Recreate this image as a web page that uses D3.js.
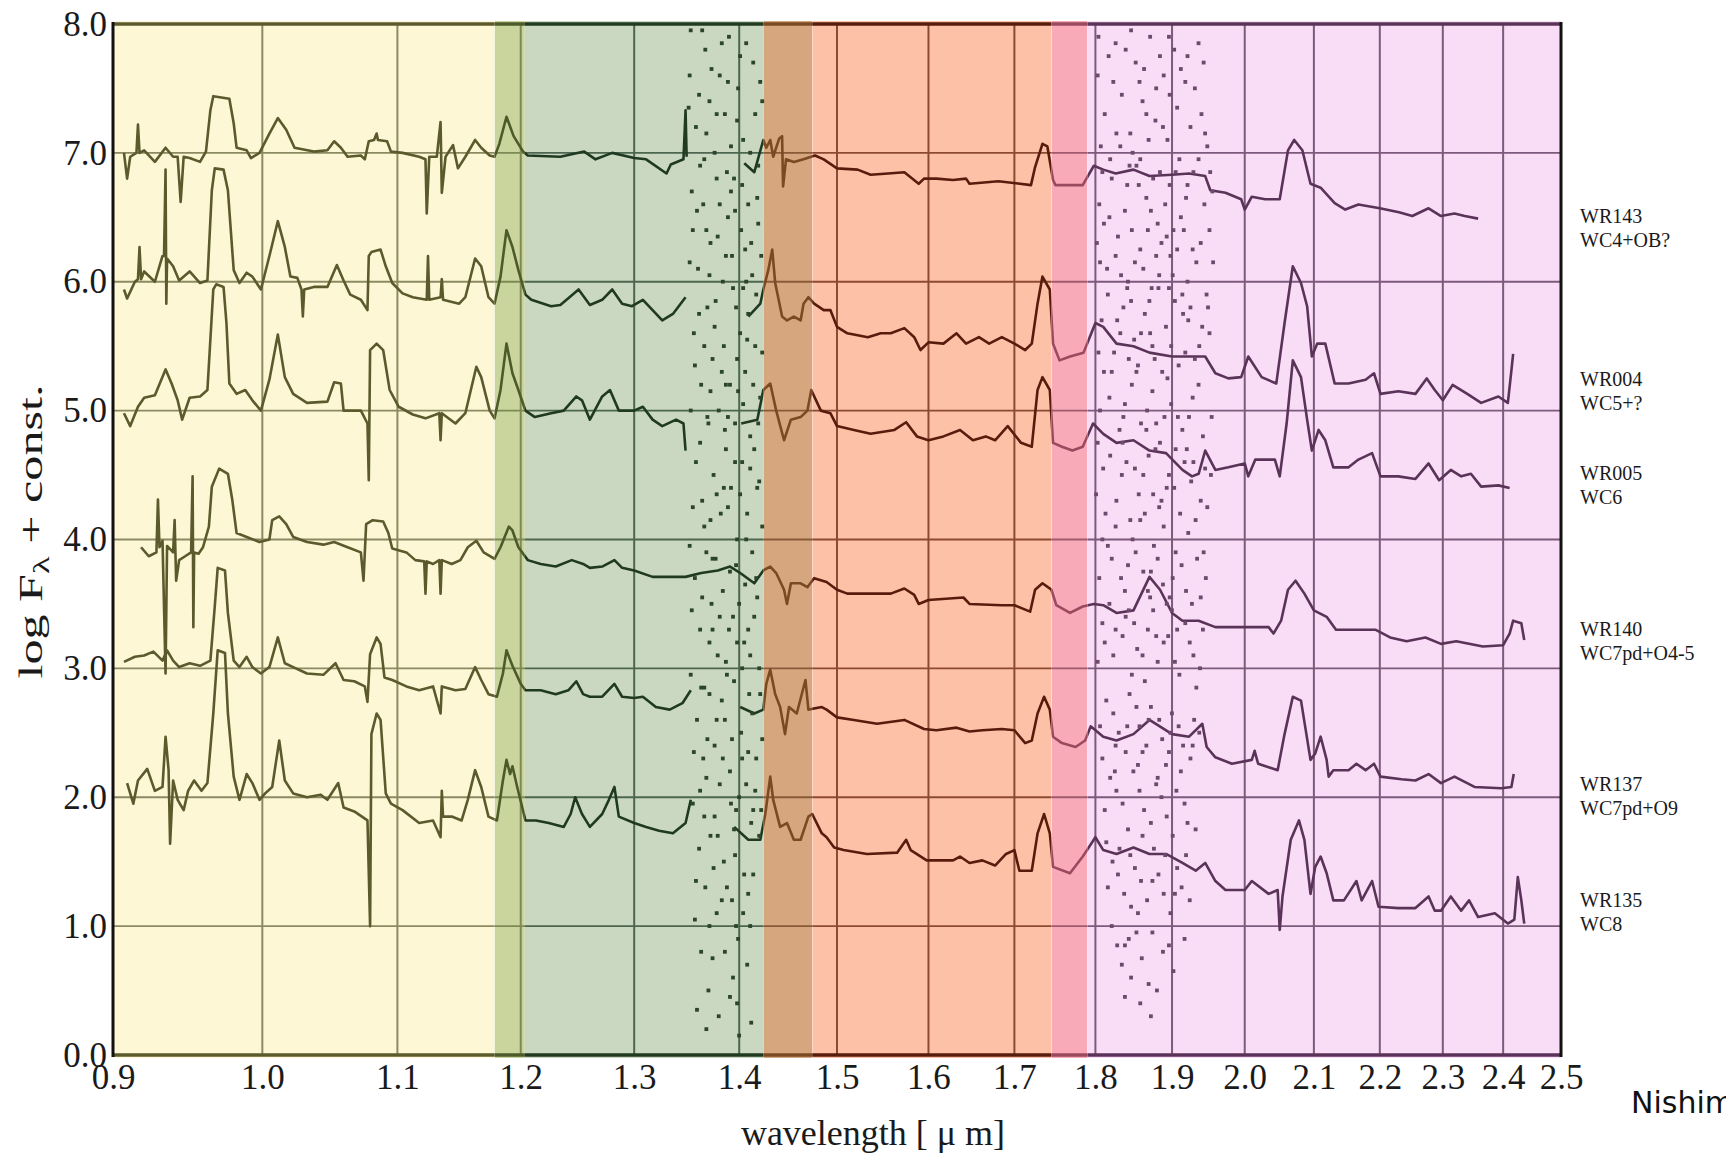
<!DOCTYPE html>
<html>
<head>
<meta charset="utf-8">
<script src="https://cdn.jsdelivr.net/npm/d3@7"></script>
<style>
  body { margin: 0; background: #fff; }
  svg { display: block; }
</style>
</head>
<body>
<svg id="chart"></svg>
<script>
// wavelength ticks (log axis) and flux ticks
const xTicks = [0.9, 1.0, 1.1, 1.2, 1.3, 1.4, 1.5, 1.6, 1.7, 1.8, 1.9, 2.0, 2.1, 2.2, 2.3, 2.4, 2.5];
const yTicks = [0, 1, 2, 3, 4, 5, 6, 7, 8];

// filter bands (wavelength edges) and their colours
const bandEdges = [0.9, 1.178, 1.2035, 1.424, 1.474, 1.745, 1.79, 2.5];
const bandFills = ["#fdf7d5", "#c9d59d", "#cad8c1", "#d6a67f", "#fdc1a8", "#f9aab9", "#f9dcf6"];
const bandInks = ["#5b5a2d", "#4d5a2a", "#203a22", "#7a4a22", "#571c0c", "#9a4a5e", "#5a3358"];
const gridInks = ["#8c8a62", "#7d8a55", "#4c6650", "#8a5a38", "#8c4a32", "#a05a6c", "#7c5a7c"];

// stars, types and where their labels sit
const starNames = ["WR143", "WR004", "WR005", "WR140", "WR137", "WR135"];
const starTypes = ["WC4+OB?", "WC5+?", "WC6", "WC7pd+O4-5", "WC7pd+O9", "WC8"];
const labelLevels = [6.42, 5.15, 4.42, 3.21, 2.01, 1.11];

// spectra: [wavelength um, log F + const], null = gap
const wr143 = [[0.907,7.0],[0.909,6.8],[0.911,6.97],[0.915,7.0],[0.916,7.22],[0.917,7.0],[0.920,7.02],[0.927,6.93],[0.934,7.04],[0.939,6.97],[0.942,6.97],[0.944,6.62],[0.946,6.97],[0.950,6.96],[0.957,6.93],[0.961,7.01],[0.964,7.33],[0.966,7.44],[0.977,7.42],[0.980,7.23],[0.982,7.04],[0.989,7.02],[0.992,6.96],[0.998,7.0],[1.005,7.15],[1.011,7.27],[1.017,7.18],[1.023,7.04],[1.037,7.01],[1.047,7.02],[1.052,7.09],[1.057,7.04],[1.062,6.97],[1.072,6.98],[1.075,6.95],[1.078,7.09],[1.082,7.1],[1.084,7.15],[1.085,7.1],[1.092,7.09],[1.095,7.01],[1.104,7.0],[1.117,6.97],[1.122,6.95],[1.123,6.53],[1.125,6.97],[1.131,6.97],[1.134,7.24],[1.135,6.69],[1.138,6.97],[1.144,7.06],[1.148,6.88],[1.154,6.97],[1.162,7.1],[1.167,7.04],[1.174,6.98],[1.178,6.97],[1.182,7.07],[1.188,7.28],[1.194,7.13],[1.202,7.01],[1.206,6.98],[1.234,6.97],[1.255,7.01],[1.265,6.95],[1.28,7.0],[1.3,6.96],[1.311,6.95],[1.33,6.84],[1.334,6.91],[1.346,6.95],[1.348,7.33],[1.349,6.97],null,[1.405,6.92],[1.415,6.85],[1.424,7.1],[1.427,7.04],[1.431,7.1],[1.434,6.97],[1.44,7.11],[1.443,7.13],[1.444,6.74],[1.447,6.95],[1.455,6.93],[1.465,6.95],[1.477,6.98],[1.486,6.95],[1.5,6.88],[1.522,6.87],[1.536,6.83],[1.555,6.84],[1.573,6.85],[1.589,6.76],[1.595,6.8],[1.609,6.8],[1.628,6.79],[1.643,6.8],[1.647,6.76],[1.681,6.78],[1.72,6.75],[1.725,6.89],[1.734,7.07],[1.74,7.05],[1.747,6.79],[1.75,6.75],[1.784,6.75],[1.798,6.9],[1.81,6.87],[1.826,6.84],[1.849,6.87],[1.87,6.82],[1.9,6.83],[1.923,6.84],[1.945,6.82],[1.952,6.71],[1.973,6.69],[1.995,6.64],[2.0,6.56],[2.01,6.66],[2.029,6.64],[2.05,6.64],[2.062,7.02],[2.071,7.1],[2.083,7.02],[2.095,6.76],[2.11,6.73],[2.131,6.61],[2.147,6.56],[2.167,6.6],[2.2,6.57],[2.23,6.54],[2.251,6.51],[2.277,6.57],[2.297,6.51],[2.319,6.53],[2.336,6.51],[2.358,6.49]];

const wr004 = [[0.907,5.94],[0.909,5.87],[0.914,6.0],[0.916,6.02],[0.917,6.27],[0.918,6.02],[0.920,6.08],[0.927,6.0],[0.932,6.2],[0.933,6.2],[0.934,6.87],[0.9345,5.83],[0.935,6.18],[0.939,6.12],[0.943,6.01],[0.950,6.08],[0.957,5.99],[0.962,6.01],[0.965,6.71],[0.967,6.88],[0.973,6.87],[0.976,6.71],[0.980,6.09],[0.984,5.99],[0.989,6.07],[0.993,6.04],[0.999,5.94],[1.005,6.2],[1.011,6.47],[1.016,6.27],[1.020,6.04],[1.025,6.03],[1.028,5.94],[1.029,5.73],[1.030,5.94],[1.037,5.96],[1.047,5.96],[1.054,6.13],[1.059,6.01],[1.064,5.9],[1.072,5.86],[1.077,5.78],[1.078,6.2],[1.080,6.23],[1.087,6.25],[1.091,6.12],[1.096,5.99],[1.104,5.91],[1.112,5.88],[1.123,5.86],[1.124,6.2],[1.125,5.86],[1.134,5.88],[1.135,6.02],[1.136,5.86],[1.149,5.83],[1.154,5.88],[1.162,6.18],[1.167,6.12],[1.173,5.88],[1.178,5.83],[1.183,6.04],[1.188,6.4],[1.193,6.27],[1.198,6.09],[1.204,5.9],[1.209,5.86],[1.226,5.81],[1.234,5.82],[1.242,5.88],[1.25,5.94],[1.26,5.82],[1.271,5.86],[1.28,5.94],[1.289,5.83],[1.298,5.81],[1.308,5.86],[1.317,5.78],[1.326,5.7],[1.336,5.75],[1.348,5.88],null,[1.409,5.73],[1.421,5.83],[1.424,5.94],[1.429,6.09],[1.433,6.25],[1.436,5.99],[1.443,5.73],[1.448,5.7],[1.455,5.73],[1.462,5.7],[1.465,5.83],[1.47,5.88],[1.476,5.83],[1.486,5.78],[1.493,5.78],[1.5,5.65],[1.511,5.6],[1.533,5.57],[1.547,5.6],[1.558,5.6],[1.573,5.64],[1.584,5.57],[1.591,5.47],[1.6,5.53],[1.617,5.52],[1.632,5.6],[1.643,5.52],[1.658,5.57],[1.67,5.52],[1.685,5.57],[1.7,5.52],[1.713,5.47],[1.721,5.52],[1.728,5.83],[1.734,6.04],[1.743,5.94],[1.747,5.52],[1.755,5.39],[1.768,5.42],[1.785,5.45],[1.8,5.68],[1.81,5.65],[1.827,5.52],[1.849,5.5],[1.87,5.45],[1.9,5.42],[1.923,5.42],[1.945,5.42],[1.959,5.29],[1.977,5.25],[1.995,5.26],[2.005,5.42],[2.024,5.26],[2.045,5.21],[2.057,5.68],[2.069,6.12],[2.081,5.99],[2.09,5.81],[2.097,5.42],[2.105,5.52],[2.117,5.52],[2.131,5.21],[2.152,5.21],[2.178,5.24],[2.191,5.29],[2.201,5.13],[2.229,5.15],[2.256,5.13],[2.274,5.25],[2.287,5.16],[2.3,5.08],[2.316,5.2],[2.34,5.13],[2.363,5.06],[2.392,5.11],[2.408,5.06],[2.414,5.31],[2.417,5.44]];

const wr005 = [[0.907,4.98],[0.911,4.88],[0.916,5.03],[0.920,5.1],[0.927,5.12],[0.934,5.32],[0.938,5.21],[0.942,5.08],[0.945,4.93],[0.950,5.1],[0.957,5.11],[0.962,5.16],[0.966,5.94],[0.968,5.98],[0.973,5.96],[0.975,5.68],[0.977,5.21],[0.982,5.13],[0.988,5.16],[0.993,5.08],[0.999,5.0],[1.005,5.24],[1.011,5.59],[1.016,5.26],[1.022,5.13],[1.032,5.06],[1.047,5.07],[1.052,5.22],[1.057,5.21],[1.059,5.0],[1.072,5.0],[1.077,4.9],[1.078,4.46],[1.079,5.47],[1.084,5.52],[1.089,5.47],[1.094,5.16],[1.101,5.03],[1.112,4.97],[1.122,4.94],[1.133,4.98],[1.134,4.77],[1.135,4.98],[1.146,4.9],[1.154,4.98],[1.163,5.34],[1.167,5.26],[1.174,5.0],[1.178,4.94],[1.183,5.16],[1.188,5.52],[1.193,5.29],[1.198,5.16],[1.204,5.0],[1.212,4.95],[1.226,4.98],[1.237,5.0],[1.248,5.11],[1.253,5.08],[1.26,4.93],[1.271,5.11],[1.278,5.16],[1.286,5.0],[1.3,5.0],[1.308,5.03],[1.317,4.93],[1.326,4.88],[1.339,4.93],[1.346,4.9],[1.348,4.69],null,[1.402,4.9],[1.418,4.93],[1.424,5.16],[1.431,5.21],[1.437,5.0],[1.445,4.77],[1.452,4.93],[1.462,4.95],[1.469,5.0],[1.473,5.16],[1.483,5.0],[1.493,4.98],[1.5,4.88],[1.518,4.85],[1.536,4.82],[1.562,4.85],[1.575,4.91],[1.587,4.8],[1.6,4.77],[1.617,4.8],[1.636,4.85],[1.651,4.77],[1.666,4.8],[1.677,4.77],[1.692,4.88],[1.708,4.75],[1.721,4.72],[1.728,5.16],[1.734,5.26],[1.743,5.16],[1.747,4.75],[1.758,4.72],[1.771,4.69],[1.784,4.72],[1.797,4.9],[1.81,4.82],[1.827,4.75],[1.849,4.77],[1.87,4.69],[1.892,4.67],[1.914,4.54],[1.927,4.49],[1.936,4.51],[1.945,4.69],[1.959,4.54],[1.977,4.56],[2.0,4.59],[2.005,4.49],[2.015,4.62],[2.043,4.62],[2.05,4.49],[2.06,4.9],[2.069,5.39],[2.081,5.26],[2.09,4.93],[2.097,4.69],[2.107,4.85],[2.117,4.77],[2.129,4.56],[2.152,4.56],[2.167,4.62],[2.188,4.67],[2.201,4.49],[2.229,4.49],[2.256,4.47],[2.277,4.59],[2.294,4.46],[2.313,4.54],[2.33,4.49],[2.346,4.51],[2.363,4.41],[2.392,4.42],[2.411,4.4]];

const wr140 = [[0.918,3.94],[0.923,3.87],[0.928,3.9],[0.929,4.31],[0.930,3.94],[0.932,3.99],[0.934,2.96],[0.935,3.95],[0.939,3.9],[0.940,4.15],[0.941,3.68],[0.943,3.84],[0.947,3.87],[0.951,3.9],[0.952,4.49],[0.9525,3.32],[0.953,3.9],[0.956,3.89],[0.959,3.94],[0.963,4.1],[0.965,4.41],[0.970,4.55],[0.976,4.51],[0.979,4.31],[0.982,4.05],[0.989,4.02],[0.998,3.98],[1.005,4.0],[1.007,4.15],[1.012,4.18],[1.017,4.12],[1.022,4.02],[1.032,3.98],[1.044,3.96],[1.052,3.98],[1.062,3.94],[1.072,3.9],[1.074,3.68],[1.076,4.12],[1.081,4.15],[1.089,4.14],[1.093,4.05],[1.096,3.93],[1.107,3.9],[1.114,3.84],[1.121,3.83],[1.122,3.58],[1.123,3.83],[1.128,3.81],[1.133,3.84],[1.134,3.58],[1.135,3.84],[1.143,3.81],[1.15,3.84],[1.156,3.94],[1.163,3.99],[1.169,3.9],[1.178,3.85],[1.183,3.94],[1.19,4.1],[1.193,4.07],[1.198,3.94],[1.206,3.84],[1.217,3.81],[1.23,3.79],[1.244,3.84],[1.254,3.81],[1.26,3.78],[1.271,3.79],[1.282,3.84],[1.289,3.78],[1.3,3.76],[1.317,3.71],[1.333,3.71],[1.348,3.71],[1.363,3.74],[1.379,3.76],[1.391,3.79],[1.401,3.74],[1.415,3.66],[1.424,3.76],[1.431,3.79],[1.437,3.74],[1.445,3.61],[1.448,3.5],[1.452,3.66],[1.462,3.66],[1.469,3.63],[1.476,3.7],[1.489,3.67],[1.5,3.61],[1.511,3.58],[1.536,3.58],[1.558,3.58],[1.573,3.62],[1.584,3.57],[1.589,3.5],[1.6,3.53],[1.64,3.55],[1.647,3.5],[1.685,3.49],[1.7,3.49],[1.719,3.44],[1.725,3.61],[1.734,3.66],[1.745,3.61],[1.751,3.49],[1.768,3.43],[1.784,3.48],[1.798,3.5],[1.81,3.49],[1.827,3.43],[1.849,3.45],[1.87,3.71],[1.884,3.61],[1.9,3.43],[1.914,3.37],[1.936,3.37],[1.959,3.32],[2.0,3.32],[2.034,3.32],[2.041,3.27],[2.052,3.37],[2.062,3.61],[2.073,3.68],[2.086,3.58],[2.1,3.45],[2.119,3.4],[2.133,3.3],[2.167,3.3],[2.193,3.3],[2.216,3.24],[2.242,3.21],[2.272,3.24],[2.297,3.19],[2.322,3.21],[2.366,3.17],[2.4,3.18],[2.411,3.27],[2.417,3.37],[2.431,3.35],[2.436,3.22]];

const wr137 = [[0.907,3.05],[0.914,3.09],[0.920,3.1],[0.926,3.13],[0.932,3.06],[0.935,3.14],[0.939,3.06],[0.943,3.01],[0.950,3.04],[0.957,3.02],[0.964,3.06],[0.967,3.48],[0.969,3.78],[0.974,3.76],[0.976,3.43],[0.980,3.06],[0.984,3.01],[0.989,3.09],[0.993,3.01],[0.999,2.96],[1.005,3.01],[1.011,3.24],[1.016,3.04],[1.022,3.01],[1.032,2.96],[1.044,2.95],[1.053,3.04],[1.059,2.91],[1.067,2.9],[1.075,2.86],[1.077,2.74],[1.079,3.11],[1.084,3.24],[1.087,3.19],[1.09,2.93],[1.096,2.91],[1.107,2.86],[1.117,2.83],[1.128,2.86],[1.134,2.65],[1.135,2.86],[1.146,2.83],[1.154,2.84],[1.162,3.01],[1.167,2.91],[1.173,2.8],[1.18,2.78],[1.185,2.96],[1.188,3.14],[1.193,3.02],[1.2,2.88],[1.204,2.83],[1.217,2.83],[1.23,2.8],[1.241,2.83],[1.248,2.9],[1.254,2.8],[1.26,2.78],[1.271,2.78],[1.282,2.88],[1.289,2.78],[1.3,2.77],[1.308,2.78],[1.32,2.7],[1.333,2.68],[1.345,2.73],[1.353,2.83],null,[1.401,2.7],[1.415,2.65],[1.424,2.68],[1.427,2.88],[1.431,2.99],[1.436,2.8],[1.441,2.7],[1.446,2.49],[1.45,2.7],[1.458,2.65],[1.467,2.91],[1.47,2.68],[1.484,2.7],[1.489,2.68],[1.5,2.62],[1.518,2.6],[1.543,2.57],[1.573,2.6],[1.595,2.53],[1.609,2.52],[1.632,2.54],[1.647,2.51],[1.662,2.52],[1.685,2.53],[1.7,2.52],[1.713,2.42],[1.721,2.44],[1.728,2.65],[1.736,2.78],[1.743,2.68],[1.747,2.47],[1.758,2.42],[1.775,2.39],[1.787,2.44],[1.794,2.55],[1.81,2.47],[1.827,2.44],[1.849,2.49],[1.87,2.6],[1.9,2.49],[1.923,2.47],[1.941,2.57],[1.947,2.39],[1.959,2.31],[1.982,2.26],[2.01,2.29],[2.014,2.36],[2.019,2.26],[2.047,2.21],[2.057,2.49],[2.069,2.78],[2.081,2.75],[2.095,2.29],[2.102,2.34],[2.11,2.47],[2.119,2.29],[2.122,2.16],[2.129,2.21],[2.152,2.21],[2.164,2.26],[2.178,2.21],[2.191,2.26],[2.201,2.16],[2.234,2.14],[2.256,2.13],[2.277,2.18],[2.297,2.11],[2.319,2.16],[2.352,2.08],[2.397,2.07],[2.414,2.08],[2.418,2.18]];

const wr135 = [[0.909,2.11],[0.913,1.95],[0.916,2.13],[0.922,2.22],[0.927,2.05],[0.932,2.08],[0.934,2.47],[0.936,2.21],[0.937,1.64],[0.939,2.13],[0.942,1.98],[0.946,1.9],[0.949,2.05],[0.953,2.13],[0.958,2.05],[0.962,2.11],[0.966,2.65],[0.969,3.14],[0.974,3.12],[0.976,2.65],[0.98,2.16],[0.984,1.98],[0.989,2.18],[0.993,2.11],[0.998,1.98],[1.002,2.03],[1.007,2.08],[1.012,2.44],[1.016,2.13],[1.022,2.03],[1.032,2.0],[1.042,2.02],[1.047,1.98],[1.055,2.11],[1.059,1.92],[1.067,1.89],[1.077,1.82],[1.079,1.0],[1.08,2.49],[1.084,2.65],[1.087,2.6],[1.091,2.03],[1.095,1.95],[1.104,1.9],[1.117,1.8],[1.128,1.82],[1.134,1.69],[1.135,2.05],[1.136,1.85],[1.143,1.85],[1.151,1.82],[1.156,1.98],[1.162,2.21],[1.167,2.08],[1.173,1.85],[1.18,1.82],[1.185,2.13],[1.188,2.29],[1.191,2.18],[1.193,2.24],[1.197,2.08],[1.204,1.82],[1.213,1.82],[1.224,1.8],[1.237,1.77],[1.243,1.87],[1.247,2.0],[1.253,1.87],[1.26,1.77],[1.271,1.87],[1.277,1.98],[1.282,2.08],[1.286,1.85],[1.3,1.8],[1.311,1.77],[1.323,1.74],[1.336,1.72],[1.348,1.8],[1.353,1.98],null,[1.395,1.77],[1.409,1.67],[1.421,1.67],[1.426,1.87],[1.431,2.16],[1.434,1.98],[1.441,1.77],[1.448,1.8],[1.455,1.67],[1.462,1.67],[1.47,1.85],[1.474,1.87],[1.484,1.72],[1.489,1.69],[1.497,1.61],[1.507,1.59],[1.532,1.56],[1.565,1.57],[1.575,1.67],[1.58,1.59],[1.598,1.51],[1.628,1.51],[1.636,1.54],[1.647,1.49],[1.662,1.51],[1.677,1.47],[1.69,1.56],[1.7,1.59],[1.706,1.43],[1.721,1.43],[1.728,1.72],[1.736,1.87],[1.743,1.72],[1.747,1.46],[1.768,1.41],[1.784,1.54],[1.8,1.69],[1.81,1.59],[1.827,1.56],[1.849,1.61],[1.87,1.56],[1.892,1.56],[1.914,1.49],[1.932,1.43],[1.945,1.49],[1.959,1.35],[1.973,1.28],[2.0,1.28],[2.01,1.35],[2.034,1.25],[2.047,1.28],[2.05,0.97],[2.054,1.23],[2.066,1.67],[2.078,1.82],[2.086,1.67],[2.095,1.25],[2.102,1.46],[2.11,1.54],[2.119,1.41],[2.129,1.2],[2.145,1.2],[2.164,1.35],[2.172,1.2],[2.188,1.35],[2.198,1.15],[2.229,1.14],[2.256,1.14],[2.277,1.23],[2.287,1.12],[2.297,1.12],[2.313,1.23],[2.33,1.12],[2.343,1.2],[2.358,1.07],[2.386,1.1],[2.408,1.02],[2.419,1.05],[2.425,1.38],[2.431,1.2],[2.436,1.02]];

const spectra = [wr143, wr004, wr005, wr140, wr137, wr135];

// telluric noise points around 1.4 um and 1.9 um
const noiseJH = [[1.352,7.6],[1.358,7.2],[1.362,6.9],[1.355,6.4],[1.367,7.8],[1.371,7.4],[1.376,7.0],[1.381,7.6],[1.386,7.3],[1.390,7.9],[1.395,6.8],[1.399,7.5],[1.404,7.1],[1.409,6.6],[1.414,7.7],[1.419,6.9],[1.360,6.1],[1.365,6.6],[1.372,6.3],[1.378,6.8],[1.384,6.0],[1.389,6.5],[1.393,6.2],[1.397,5.8],[1.402,6.4],[1.407,6.0],[1.412,6.3],[1.417,5.9],[1.422,6.2],[1.356,5.6],[1.363,5.2],[1.369,5.8],[1.374,5.4],[1.380,5.0],[1.385,5.5],[1.391,5.2],[1.396,4.9],[1.401,5.6],[1.406,5.3],[1.411,4.8],[1.416,5.5],[1.421,5.1],[1.358,4.6],[1.364,4.3],[1.370,4.9],[1.375,4.5],[1.382,4.2],[1.387,4.7],[1.392,4.4],[1.398,4.0],[1.403,4.6],[1.408,4.2],[1.413,3.9],[1.418,4.4],[1.423,4.1],[1.357,3.7],[1.362,3.3],[1.368,3.9],[1.373,3.5],[1.379,3.1],[1.384,3.6],[1.390,3.3],[1.395,2.9],[1.400,3.5],[1.405,3.2],[1.410,2.8],[1.415,3.4],[1.420,3.0],[1.359,2.6],[1.365,2.3],[1.371,2.8],[1.376,2.4],[1.381,2.1],[1.386,2.6],[1.391,2.2],[1.397,1.9],[1.402,2.5],[1.407,2.1],[1.412,1.8],[1.417,2.3],[1.422,1.9],[1.361,1.6],[1.367,1.3],[1.372,1.7],[1.378,1.1],[1.385,1.5],[1.393,1.2],[1.399,0.9],[1.405,1.4],[1.411,1.0],[1.363,0.8],[1.370,0.5],[1.380,0.3],[1.394,0.6],[1.400,0.15],[1.408,0.7],[1.366,6.95],[1.388,6.85],[1.403,6.75],[1.377,5.85],[1.394,5.95],[1.409,5.75],[1.369,4.95],[1.386,4.85],[1.415,4.7],[1.374,3.85],[1.391,3.75],[1.406,3.65],[1.366,2.85],[1.383,2.75],[1.413,2.65],[1.376,1.85],[1.395,1.75],[1.420,1.7],
  [1.353,7.95],[1.361,7.45],[1.368,7.15],[1.373,7.65],[1.383,7.85],[1.392,7.05],[1.398,7.25],[1.407,7.85],[1.416,7.3],[1.421,7.55],[1.354,6.7],[1.359,6.55],[1.371,6.05],[1.379,6.35],[1.387,6.2],[1.396,6.55],[1.404,5.95],[1.413,6.05],[1.419,6.45],[1.357,5.35],[1.366,5.5],[1.372,5.15],[1.383,5.3],[1.389,4.95],[1.398,5.4],[1.404,5.05],[1.414,5.2],[1.423,5.45],[1.355,4.25],[1.362,4.75],[1.372,4.15],[1.378,4.35],[1.389,4.25],[1.396,4.6],[1.401,4.35],[1.411,4.55],[1.420,4.45],[1.354,3.45],[1.364,3.55],[1.371,3.2],[1.381,3.4],[1.388,2.95],[1.394,3.4],[1.403,3.0],[1.409,3.3],[1.418,3.55],[1.356,2.35],[1.362,2.05],[1.369,2.45],[1.378,2.6],[1.384,2.3],[1.393,2.45],[1.400,2.0],[1.409,2.35],[1.416,2.05],[1.358,1.35],[1.366,1.85],[1.375,1.45],[1.388,1.3],[1.396,1.55],[1.404,1.1],[1.414,1.4],[1.359,0.35],[1.371,1.0],[1.386,0.8],[1.398,0.4],[1.412,0.25],
  [1.351,7.35],[1.364,7.95],[1.378,7.3],[1.389,7.55],[1.401,7.75],[1.411,7.0],[1.423,7.4],[1.352,6.15],[1.368,6.4],[1.381,6.6],[1.392,6.7],[1.406,6.25],[1.418,6.65],[1.353,5.0],[1.361,5.75],[1.376,5.65],[1.387,5.2],[1.399,5.15],[1.408,5.55],[1.419,4.9],[1.352,3.95],[1.366,4.1],[1.377,3.85],[1.385,4.4],[1.397,3.8],[1.407,4.0],[1.417,3.7],[1.353,2.95],[1.363,2.85],[1.374,3.3],[1.387,3.05],[1.398,3.2],[1.411,3.1],[1.421,2.8],[1.355,1.95],[1.368,2.15],[1.379,1.7],[1.392,1.95],[1.403,2.3],[1.414,1.9],[1.423,2.45],[1.357,1.05],[1.374,0.75],[1.383,1.2],[1.397,1.0],[1.409,1.25],[1.368,0.2],[1.391,0.45]];

const noiseHK = [[1.826,7.85],[1.852,7.7],[1.871,7.9],[1.889,7.6],[1.903,7.8],[1.918,7.55],[1.812,7.3],[1.834,7.45],[1.845,7.15],[1.861,7.4],[1.878,7.25],[1.894,7.1],[1.907,7.35],[1.925,7.2],[1.940,7.3],[1.948,7.05],[1.805,6.6],[1.821,6.8],[1.838,6.55],[1.853,6.9],[1.866,6.65],[1.881,6.45],[1.897,6.75],[1.912,6.5],[1.929,6.85],[1.944,6.6],[1.955,6.7],[1.815,6.1],[1.829,6.35],[1.842,6.0],[1.858,6.25],[1.873,5.95],[1.886,6.3],[1.901,6.05],[1.916,6.4],[1.933,6.15],[1.947,5.9],[1.808,5.7],[1.824,5.45],[1.836,5.8],[1.850,5.55],[1.864,5.75],[1.877,5.4],[1.892,5.65],[1.909,5.35],[1.922,5.7],[1.937,5.5],[1.951,5.6],[1.818,5.1],[1.831,4.85],[1.847,5.2],[1.859,4.9],[1.874,5.15],[1.884,4.75],[1.899,5.05],[1.914,4.85],[1.928,5.1],[1.942,4.8],[1.810,4.55],[1.827,4.3],[1.840,4.6],[1.856,4.35],[1.869,4.65],[1.883,4.25],[1.896,4.5],[1.911,4.2],[1.926,4.45],[1.939,4.3],[1.953,4.5],[1.816,3.95],[1.833,3.7],[1.848,4.0],[1.862,3.75],[1.876,3.95],[1.888,3.65],[1.905,3.9],[1.919,3.6],[1.934,3.85],[1.946,3.7],[1.809,3.35],[1.823,3.1],[1.839,3.4],[1.854,3.15],[1.868,3.3],[1.881,3.05],[1.895,3.25],[1.910,2.95],[1.924,3.2],[1.938,3.0],[1.814,2.75],[1.830,2.5],[1.844,2.8],[1.857,2.55],[1.872,2.7],[1.887,2.45],[1.900,2.65],[1.915,2.4],[1.930,2.6],[1.819,2.15],[1.835,1.95],[1.849,2.2],[1.863,1.9],[1.879,2.1],[1.893,1.85],[1.906,2.05],[1.921,1.8],[1.822,1.5],[1.837,1.25],[1.851,1.45],[1.867,1.2],[1.882,1.4],[1.898,1.1],[1.913,1.3],[1.828,0.85],[1.846,0.6],[1.860,0.75],[1.880,0.5],[1.902,0.65],[1.843,0.9],[1.832,7.05],[1.858,6.95],[1.884,6.85],[1.910,6.95],[1.841,5.95],[1.870,5.85],[1.896,5.95],[1.925,5.8],[1.836,4.95],[1.866,4.85],[1.890,4.95],[1.920,4.7],[1.843,3.45],[1.871,3.55],[1.900,3.45],[1.826,2.4],[1.861,2.35],[1.892,2.25],
  [1.803,7.6],[1.817,7.75],[1.839,7.8],[1.857,7.55],[1.866,7.3],[1.884,7.75],[1.897,7.45],[1.912,7.65],[1.931,7.5],[1.943,7.7],[1.807,7.05],[1.819,6.95],[1.841,6.75],[1.848,7.0],[1.869,7.1],[1.875,6.8],[1.891,6.6],[1.905,6.85],[1.919,6.65],[1.936,6.95],[1.952,6.85],[1.802,6.3],[1.811,6.45],[1.826,6.2],[1.847,6.4],[1.862,6.1],[1.879,6.2],[1.893,6.35],[1.907,6.25],[1.921,6.0],[1.939,6.3],[1.956,6.15],[1.804,5.45],[1.816,5.9],[1.832,5.6],[1.846,5.85],[1.855,5.35],[1.871,5.6],[1.882,5.95],[1.899,5.5],[1.915,5.75],[1.931,5.4],[1.949,5.8],[1.806,5.0],[1.821,5.3],[1.838,5.05],[1.853,5.3],[1.867,5.0],[1.879,4.9],[1.894,5.25],[1.905,4.7],[1.923,4.95],[1.936,5.2],[1.954,4.95],[1.801,4.35],[1.813,4.2],[1.834,4.5],[1.845,4.15],[1.862,4.5],[1.875,4.35],[1.889,4.1],[1.903,4.4],[1.917,4.6],[1.932,4.15],[1.948,4.25],[1.805,3.7],[1.821,3.85],[1.838,3.6],[1.852,3.9],[1.868,3.6],[1.881,3.85],[1.897,3.55],[1.913,3.8],[1.927,3.5],[1.943,3.9],[1.812,3.2],[1.826,3.3],[1.847,2.95],[1.861,3.1],[1.875,3.45],[1.889,3.2],[1.904,3.05],[1.918,3.35],[1.933,2.85],[1.806,2.55],[1.823,2.65],[1.839,2.35],[1.853,2.7],[1.866,2.4],[1.883,2.6],[1.896,2.35],[1.909,2.55],[1.925,2.3],[1.937,2.5],[1.812,1.9],[1.827,2.05],[1.842,1.75],[1.857,2.05],[1.872,1.8],[1.886,2.0],[1.901,1.7],[1.917,1.95],[1.932,1.75],[1.816,1.3],[1.831,1.6],[1.846,1.15],[1.859,1.35],[1.876,1.6],[1.889,1.25],[1.907,1.45],[1.924,1.2],[1.834,0.7],[1.853,0.95],[1.869,0.55],[1.888,0.8],[1.917,0.9],[1.872,0.3],
  [1.804,7.9],[1.823,7.55],[1.846,7.95],[1.863,7.65],[1.879,7.5],[1.896,7.9],[1.921,7.75],[1.936,7.85],[1.809,6.85],[1.827,7.15],[1.844,6.9],[1.856,6.75],[1.872,6.55],[1.888,7.2],[1.902,6.4],[1.921,6.75],[1.945,7.15],[1.806,6.15],[1.818,6.5],[1.833,6.05],[1.851,6.15],[1.868,6.4],[1.883,6.05],[1.898,6.2],[1.914,5.9],[1.928,6.25],[1.951,6.4],[1.811,5.3],[1.828,5.7],[1.843,5.4],[1.859,5.6],[1.874,5.5],[1.887,5.3],[1.904,5.85],[1.918,5.45],[1.941,5.65],[1.803,4.75],[1.819,4.65],[1.835,4.75],[1.851,4.55],[1.864,4.2],[1.878,4.7],[1.893,4.4],[1.908,4.95],[1.929,4.6],[1.945,4.55],[1.809,4.0],[1.826,4.1],[1.842,3.8],[1.858,4.15],[1.872,3.75],[1.886,4.3],[1.901,3.7],[1.922,4.05],[1.939,3.55],[1.803,3.05],[1.818,3.5],[1.835,3.25],[1.850,3.35],[1.864,2.9],[1.879,3.25],[1.893,3.5],[1.907,3.3],[1.929,3.1],[1.942,3.3],[1.809,2.3],[1.825,2.2],[1.841,2.55],[1.855,2.25],[1.869,2.6],[1.881,2.15],[1.898,2.5],[1.912,2.2],[1.928,2.4],[1.814,1.65],[1.829,1.4],[1.845,1.55],[1.861,1.7],[1.874,1.35],[1.891,1.55],[1.904,1.25],[1.919,1.55],[1.821,1.0],[1.838,0.85],[1.855,1.1],[1.874,0.95],[1.896,0.85],[1.858,0.4],[1.838,0.45]];

// layout
const W = 1726, H = 1157;
const plotL = 113, plotR = 1561, plotT = 24, plotB = 1055;

const svg = d3.select("#chart").attr("width", W).attr("height", H);

const x = d3.scaleLog().domain([0.9, 2.5]).range([plotL, plotR]);
const y = d3.scaleLinear().domain([0, 8]).range([plotB, plotT]);

const line = d3.line()
  .defined(d => d !== null)
  .x(d => x(d[0]))
  .y(d => y(d[1]));

const defs = svg.append("defs");

// each filter band is drawn in its own clip, with its own ink colour
d3.range(bandEdges.length - 1).forEach(i => {
  const x0 = x(bandEdges[i]), x1 = x(bandEdges[i + 1]);
  defs.append("clipPath").attr("id", "band" + i)
    .append("rect")
    .attr("x", x0).attr("y", plotT - 3)
    .attr("width", x1 - x0).attr("height", plotB - plotT + 6);

  const g = svg.append("g").attr("clip-path", `url(#band${i})`);

  g.append("rect")
    .attr("x", x0).attr("y", plotT - 3)
    .attr("width", x1 - x0).attr("height", plotB - plotT + 6)
    .attr("fill", bandFills[i]);

  // grid
  g.selectAll(".vg").data(xTicks.slice(1, -1)).enter().append("line")
    .attr("x1", d => x(d)).attr("x2", d => x(d))
    .attr("y1", plotT).attr("y2", plotB)
    .attr("stroke", gridInks[i]).attr("stroke-width", 2);
  g.selectAll(".hg").data(yTicks.slice(1, -1)).enter().append("line")
    .attr("x1", plotL).attr("x2", plotR)
    .attr("y1", d => y(d)).attr("y2", d => y(d))
    .attr("stroke", gridInks[i]).attr("stroke-width", 1.8);

  // top and bottom frame
  g.selectAll(".fr").data([8, 0]).enter().append("line")
    .attr("x1", plotL).attr("x2", plotR)
    .attr("y1", d => y(d)).attr("y2", d => y(d))
    .attr("stroke", bandInks[i]).attr("stroke-width", 3.5);

  // spectra
  g.selectAll(".sp").data(spectra).enter().append("path")
    .attr("d", line)
    .attr("fill", "none")
    .attr("stroke", bandInks[i])
    .attr("stroke-width", 2.6)
    .attr("stroke-linejoin", "round");
});

// noise dots
svg.append("g").selectAll("rect").data(noiseJH).enter().append("rect")
  .attr("x", d => x(d[0]) - 2).attr("y", d => y(d[1]) - 2)
  .attr("width", 3.8).attr("height", 3.8)
  .attr("fill", "#2b452b");

svg.append("g").selectAll("rect").data(noiseHK).enter().append("rect")
  .attr("x", d => x(d[0]) - 2).attr("y", d => y(d[1]) - 2)
  .attr("width", 3.8).attr("height", 3.8)
  .attr("fill", "#6d4a6d");

// left and right frame
svg.append("line").attr("x1", plotL).attr("x2", plotL).attr("y1", plotT - 2).attr("y2", plotB + 2)
  .attr("stroke", "#111").attr("stroke-width", 3);
svg.append("line").attr("x1", plotR).attr("x2", plotR).attr("y1", plotT - 2).attr("y2", plotB + 2)
  .attr("stroke", "#111").attr("stroke-width", 3);

// axes (labels only)
const serif = "'Liberation Serif', 'Times New Roman', serif";

const xAxis = svg.append("g")
  .attr("transform", `translate(0,${plotB})`)
  .call(d3.axisBottom(x).tickValues(xTicks).tickFormat(d3.format(".1f")).tickSize(0).tickPadding(9));
xAxis.select(".domain").remove();
xAxis.selectAll("text").style("font-family", serif).style("font-size", "35px").attr("fill", "#1a1a1a");

const yAxis = svg.append("g")
  .attr("transform", `translate(${plotL},0)`)
  .call(d3.axisLeft(y).tickValues(yTicks).tickFormat(d3.format(".1f")).tickSize(0).tickPadding(6));
yAxis.select(".domain").remove();
yAxis.selectAll("text").style("font-family", serif).style("font-size", "35px").attr("fill", "#1a1a1a");

// axis titles (the y title is stretched along its length, as in the source)
const yTitle = svg.append("text")
  .attr("transform", `translate(42,${(plotT + plotB) / 2 - 8}) rotate(-90)`)
  .attr("text-anchor", "middle")
  .attr("textLength", 294).attr("lengthAdjust", "spacingAndGlyphs")
  .style("font-family", serif).style("font-size", "33px").attr("fill", "#1a1a1a");
yTitle.append("tspan").text("log F");
yTitle.append("tspan").attr("dy", 7).style("font-size", "24px").text("λ");
yTitle.append("tspan").attr("dy", -7).text(" + const.");

svg.append("text")
  .attr("x", (plotL + plotR) / 2 + 36).attr("y", 1145)
  .attr("text-anchor", "middle")
  .style("font-family", serif).style("font-size", "36px").attr("fill", "#1a1a1a")
  .text("wavelength [ μ m]");

// star labels on the right
const labels = svg.append("g");
starNames.forEach((name, i) => {
  const t = labels.append("text")
    .attr("x", 1580).attr("y", y(labelLevels[i]) - 5)
    .style("font-family", serif).style("font-size", "20px").attr("fill", "#1a1a1a");
  t.append("tspan").attr("x", 1580).text(name);
  t.append("tspan").attr("x", 1580).attr("dy", 24).text(starTypes[i]);
});

// credit, cut off at the page edge
svg.append("text")
  .attr("x", 1631).attr("y", 1113)
  .style("font-family", "'DejaVu Sans', Verdana, sans-serif").style("font-size", "30px")
  .attr("fill", "#111")
  .text("Nishimura");
</script>
</body>
</html>
